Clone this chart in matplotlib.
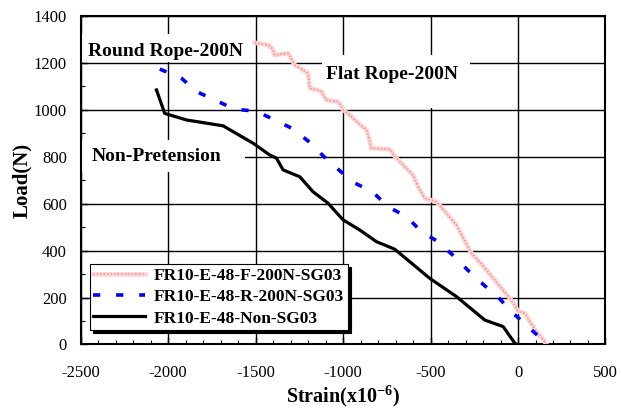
import matplotlib
matplotlib.use("Agg")
import matplotlib.pyplot as plt
from matplotlib.patches import Rectangle
from matplotlib.ticker import MultipleLocator

plt.rcParams['font.family'] = ['Liberation Serif', 'DejaVu Serif']
plt.rcParams['axes.unicode_minus'] = False
plt.rcParams['mathtext.fontset'] = 'custom'
plt.rcParams['mathtext.rm'] = 'Liberation Serif'
plt.rcParams['mathtext.bf'] = 'Liberation Serif:bold'

# FR10-E-48-F-200N-SG03 (flat rope)
flat_x = [-1505, -1470, -1429, -1405, -1391, -1350, -1314, -1295, -1276, -1240, -1200, -1195, -1190,
          -1150, -1123, -1110, -1095, -1060, -1029, -1010, -1000, -965, -933, -900, -866, -850, -838,
          -790, -733, -715, -695, -650, -600, -570, -533, -500, -466, -410, -352, -310, -266, -200,
          -142, -95, -47, -20, 1, 20, 39, 70, 106, 135, 163]
flat_y = [1286, 1282, 1277, 1262, 1234, 1238, 1241, 1215, 1191, 1175, 1156, 1120, 1092,
          1085, 1078, 1060, 1042, 1038, 1035, 1015, 1000, 980, 957, 935, 915, 875, 836,
          835, 832, 812, 794, 760, 722, 670, 623, 616, 609, 560, 509, 450, 389, 335,
          282, 240, 197, 168, 140, 137, 133, 95, 55, 28, 0]

# FR10-E-48-R-200N-SG03 (round rope)
round_x = [-2048, -1924, -1838, -1734, -1619, -1495, -1391, -1286, -1200, -1114, -1029, -939,
           -832, -743, -638, -552, -457, -367, -285, -196, -108, -28, 62, 149, 170]
round_y = [1174, 1135, 1078, 1042, 1003, 994, 957, 919, 867, 804, 747, 690,
           651, 587, 545, 481, 438, 377, 315, 254, 197, 133, 73, 12, 0]

# FR10-E-48-Non-SG03
non_x = [-2067, -2020, -1895, -1686, -1515, -1420, -1381, -1343, -1248, -1172, -1086, -1000,
         -905, -809, -705, -505, -352, -190, -85, -18, -5]
non_y = [1085, 985, 957, 932, 858, 808, 794, 744, 715, 651, 602, 531,
         488, 438, 406, 282, 204, 104, 76, 5, 0]

labels = ['FR10-E-48-F-200N-SG03', 'FR10-E-48-R-200N-SG03', 'FR10-E-48-Non-SG03']

fig = plt.figure(figsize=(6.21, 4.12), dpi=100)
ax = fig.add_axes([0.130, 0.164, 0.845, 0.797])

ax.set_xlim(-2500, 500)
ax.set_ylim(0, 1400)
ax.xaxis.set_major_locator(MultipleLocator(500))
ax.xaxis.set_minor_locator(MultipleLocator(100))
ax.yaxis.set_major_locator(MultipleLocator(200))
ax.yaxis.set_minor_locator(MultipleLocator(100))
ax.tick_params(which='both', direction='in', labelsize=12)
ax.tick_params(axis='x', pad=15)
ax.tick_params(axis='y', pad=10)
ax.tick_params(which='major', length=5, width=1)
ax.tick_params(which='minor', length=3, width=0.8)
ax.grid(True, which='major', color='black', linewidth=1.0, zorder=0)
ax.set_axisbelow(True)
for s in ax.spines.values():
    s.set_linewidth(1.5)

# white boxes behind the annotations (they hide the grid)
for (x0, y0, w, h) in [(-2495, 1204, 962, 119), (-1122, 1009, 846, 225), (-2495, 735, 933, 137)]:
    ax.add_patch(Rectangle((x0, y0), w, h, facecolor='white', edgecolor='none', zorder=1))

ax.text(-2460, 1250, 'Round Rope-200N', fontsize=14, fontweight='bold', va='center', zorder=4)
ax.text(-1098, 1153, 'Flat Rope-200N', fontsize=14, fontweight='bold', va='center', zorder=4)
ax.text(-2437, 800, 'Non-Pretension', fontsize=14, fontweight='bold', va='center', zorder=4)

f1, = ax.plot(flat_x, flat_y, color='#fcd4d4', linewidth=3.3, zorder=3)
f2, = ax.plot(flat_x, flat_y, color='#f29090', linewidth=1.1, linestyle=(0, (1, 1.3)), zorder=3)
r1, = ax.plot(round_x, round_y, color='#0000ff', linewidth=2.6, linestyle=(0, (2.0, 4.4)), zorder=3)
n1, = ax.plot(non_x, non_y, color='black', linewidth=2.3, zorder=3)

leg = ax.legend([(f1, f2), r1, n1], labels, loc='lower left', bbox_to_anchor=(0.017, 0.044),
                fancybox=False, shadow={'color': 'black', 'alpha': 1, 'ox': 2.2, 'oy': -2.2},
                edgecolor='black', framealpha=1, borderaxespad=0,
                prop={'size': 12.5, 'weight': 'bold'}, handlelength=3.0,
                labelspacing=0.3, borderpad=0.2, handletextpad=0.5)
leg.get_frame().set_linewidth(0.8)
leg.set_zorder(5)

ax.set_xlabel('Strain(x10$^{\\mathbf{-6}}$)', fontsize=14.5, fontweight='bold', labelpad=1)
ax.set_ylabel('Load(N)', fontsize=15, fontweight='bold', labelpad=1)

fig.savefig('out.png', dpi=100)
